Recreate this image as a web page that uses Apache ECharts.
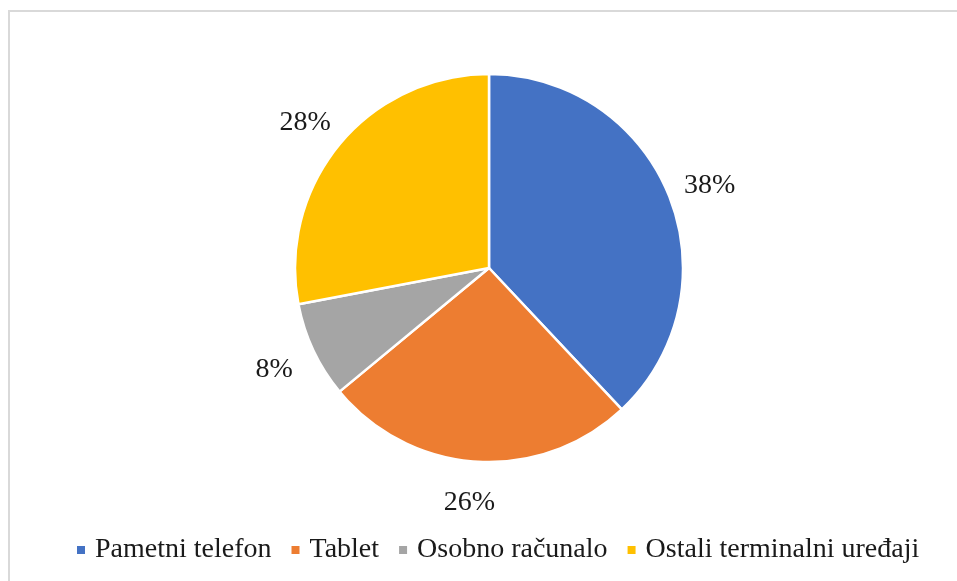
<!DOCTYPE html>
<html>
<head>
<meta charset="utf-8">
<script src="https://cdn.jsdelivr.net/npm/echarts@6/dist/echarts.min.js"></script>
<style>
html,body{margin:0;padding:0;background:#fff;}
#chart{width:957px;height:581px;}
</style>
</head>
<body>
<div id="chart"></div>
<script>
const categories = ['Pametni telefon', 'Tablet', 'Osobno računalo', 'Ostali terminalni uređaji'];
const values = [38, 26, 8, 28];
const colors = ['#4472C4', '#ED7D31', '#A5A5A5', '#FFC000'];

const chart = echarts.init(document.getElementById('chart'), null, {renderer: 'canvas'});
const fontFamily = '"Liberation Serif", "Times New Roman", serif';

chart.setOption({
  animation: false,
  backgroundColor: '#fff',
  color: colors,
  graphic: [{
    type: 'rect',
    shape: {x: 9, y: 11, width: 1200, height: 1200},
    style: {fill: 'none', stroke: '#d9d9d9', lineWidth: 2},
    silent: true,
    z: -1
  }],
  legend: {
    bottom: 12,
    left: 70,
    itemWidth: 10,
    itemHeight: 10,
    itemGap: 18,
    icon: 'rect',
    textStyle: {fontFamily: fontFamily, fontSize: 28, color: '#1a1a1a', padding: [0, 0, 0, 4]},
    data: categories
  },
  series: [{
    type: 'pie',
    center: [489, 268],
    radius: 194,
    startAngle: 90,
    clockwise: true,
    avoidLabelOverlap: false,
    itemStyle: {borderColor: '#fff', borderWidth: 2.5},
    label: {
      show: true,
      position: 'outside',
      formatter: '{d}%',
      fontFamily: fontFamily,
      fontSize: 28,
      color: '#1a1a1a'
    },
    labelLine: {show: false, length: 38, length2: 0},
    labelLayout: function () { return {align: 'center', verticalAlign: 'middle', dy: 3}; },
    emphasis: {disabled: true},
    data: categories.map((c, i) => ({name: c, value: values[i]}))
  }]
});
</script>
</body>
</html>
